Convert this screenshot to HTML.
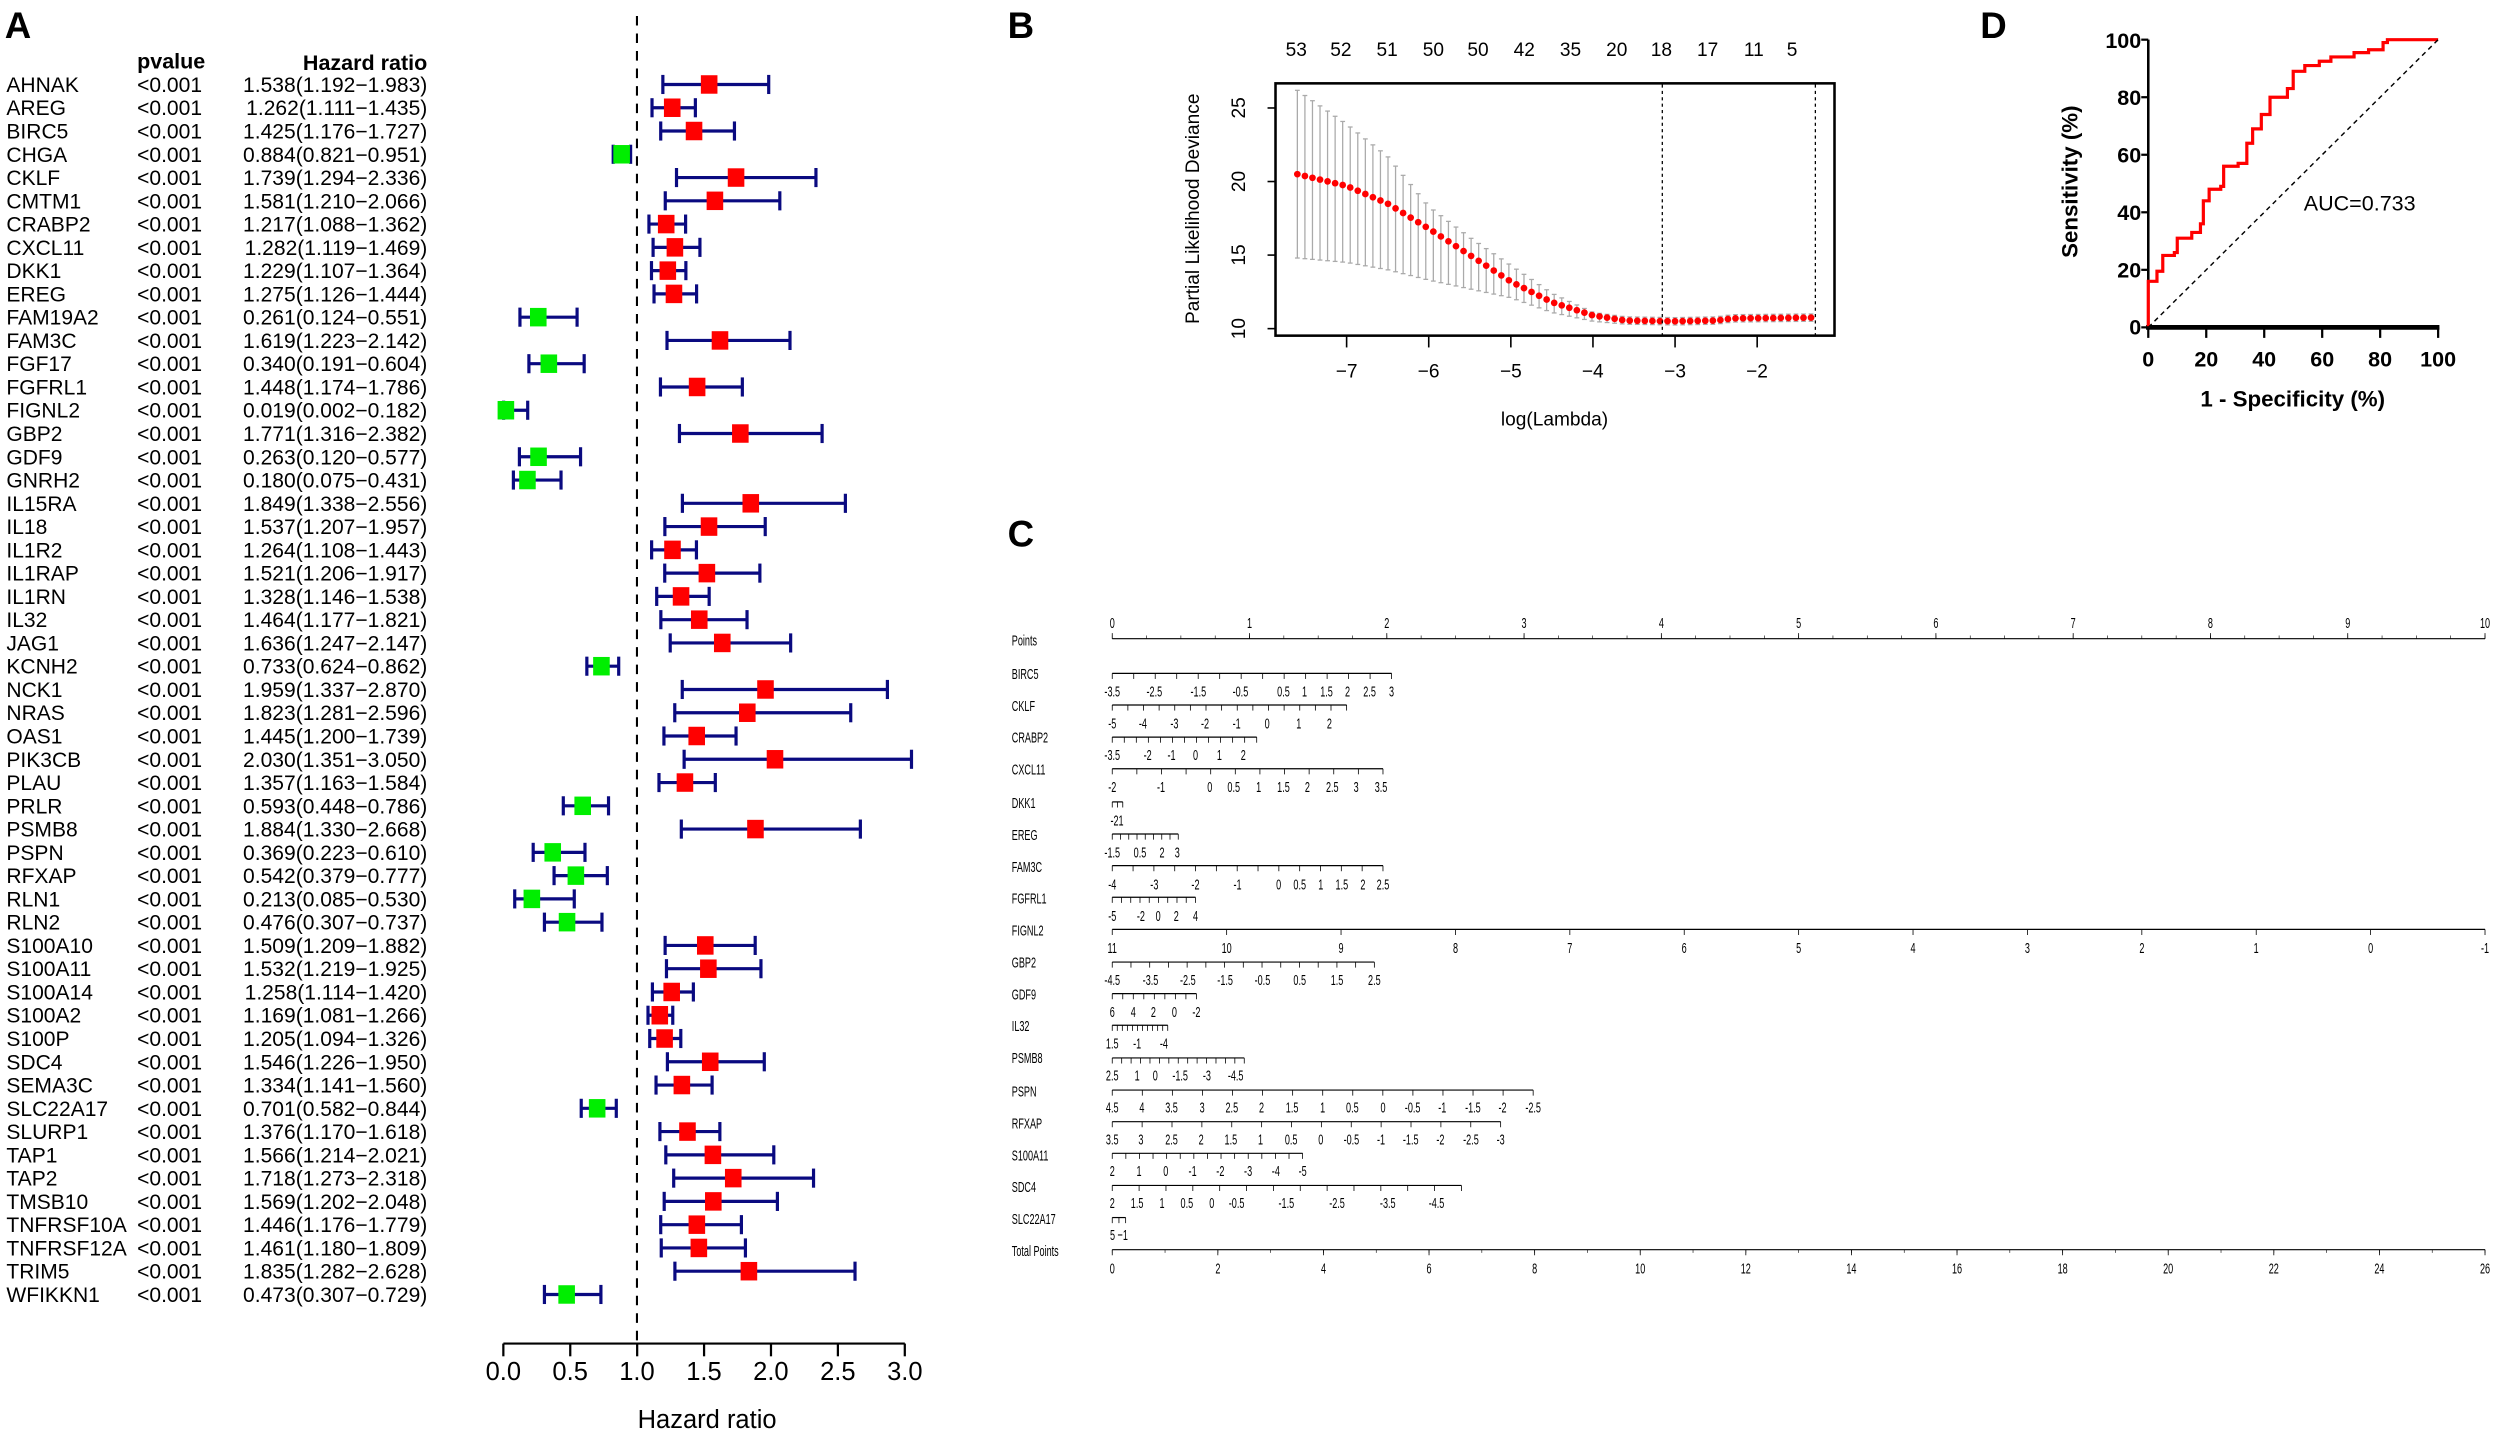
<!DOCTYPE html>
<html><head><meta charset="utf-8"><style>
html,body{margin:0;padding:0;background:#fff}
svg{display:block}
text{font-family:"Liberation Sans",Arial,sans-serif;fill:#000}
</style></head><body>
<svg id="s" width="2500" height="1436" viewBox="0 0 1568 901" preserveAspectRatio="none" xmlns="http://www.w3.org/2000/svg">
<rect width="1568" height="901" fill="#fff"/>
<!-- Panel labels -->
<text x="3" y="24" font-size="23" font-weight="bold">A</text>
<text x="632" y="24" font-size="23" font-weight="bold">B</text>
<text x="632" y="343" font-size="23" font-weight="bold">C</text>
<text x="1242" y="24" font-size="23" font-weight="bold">D</text>

<!-- Panel A text -->
<text x="86" y="43" font-size="13.5" font-weight="bold">pvalue</text>
<text x="268" y="44" font-size="13.5" font-weight="bold" text-anchor="end">Hazard ratio</text>
<g font-size="13.2">
<text x="4" y="57.7"><tspan x="4">AHNAK</tspan><tspan x="4" dy="14.6">AREG</tspan><tspan x="4" dy="14.6">BIRC5</tspan><tspan x="4" dy="14.6">CHGA</tspan><tspan x="4" dy="14.6">CKLF</tspan><tspan x="4" dy="14.6">CMTM1</tspan><tspan x="4" dy="14.6">CRABP2</tspan><tspan x="4" dy="14.6">CXCL11</tspan><tspan x="4" dy="14.6">DKK1</tspan><tspan x="4" dy="14.6">EREG</tspan><tspan x="4" dy="14.6">FAM19A2</tspan><tspan x="4" dy="14.6">FAM3C</tspan><tspan x="4" dy="14.6">FGF17</tspan><tspan x="4" dy="14.6">FGFRL1</tspan><tspan x="4" dy="14.6">FIGNL2</tspan><tspan x="4" dy="14.6">GBP2</tspan><tspan x="4" dy="14.6">GDF9</tspan><tspan x="4" dy="14.6">GNRH2</tspan><tspan x="4" dy="14.6">IL15RA</tspan><tspan x="4" dy="14.6">IL18</tspan><tspan x="4" dy="14.6">IL1R2</tspan><tspan x="4" dy="14.6">IL1RAP</tspan><tspan x="4" dy="14.6">IL1RN</tspan><tspan x="4" dy="14.6">IL32</tspan><tspan x="4" dy="14.6">JAG1</tspan><tspan x="4" dy="14.6">KCNH2</tspan><tspan x="4" dy="14.6">NCK1</tspan><tspan x="4" dy="14.6">NRAS</tspan><tspan x="4" dy="14.6">OAS1</tspan><tspan x="4" dy="14.6">PIK3CB</tspan><tspan x="4" dy="14.6">PLAU</tspan><tspan x="4" dy="14.6">PRLR</tspan><tspan x="4" dy="14.6">PSMB8</tspan><tspan x="4" dy="14.6">PSPN</tspan><tspan x="4" dy="14.6">RFXAP</tspan><tspan x="4" dy="14.6">RLN1</tspan><tspan x="4" dy="14.6">RLN2</tspan><tspan x="4" dy="14.6">S100A10</tspan><tspan x="4" dy="14.6">S100A11</tspan><tspan x="4" dy="14.6">S100A14</tspan><tspan x="4" dy="14.6">S100A2</tspan><tspan x="4" dy="14.6">S100P</tspan><tspan x="4" dy="14.6">SDC4</tspan><tspan x="4" dy="14.6">SEMA3C</tspan><tspan x="4" dy="14.6">SLC22A17</tspan><tspan x="4" dy="14.6">SLURP1</tspan><tspan x="4" dy="14.6">TAP1</tspan><tspan x="4" dy="14.6">TAP2</tspan><tspan x="4" dy="14.6">TMSB10</tspan><tspan x="4" dy="14.6">TNFRSF10A</tspan><tspan x="4" dy="14.6">TNFRSF12A</tspan><tspan x="4" dy="14.6">TRIM5</tspan><tspan x="4" dy="14.6">WFIKKN1</tspan></text>
<text x="86" y="57.7"><tspan x="86">&lt;0.001</tspan><tspan x="86" dy="14.6">&lt;0.001</tspan><tspan x="86" dy="14.6">&lt;0.001</tspan><tspan x="86" dy="14.6">&lt;0.001</tspan><tspan x="86" dy="14.6">&lt;0.001</tspan><tspan x="86" dy="14.6">&lt;0.001</tspan><tspan x="86" dy="14.6">&lt;0.001</tspan><tspan x="86" dy="14.6">&lt;0.001</tspan><tspan x="86" dy="14.6">&lt;0.001</tspan><tspan x="86" dy="14.6">&lt;0.001</tspan><tspan x="86" dy="14.6">&lt;0.001</tspan><tspan x="86" dy="14.6">&lt;0.001</tspan><tspan x="86" dy="14.6">&lt;0.001</tspan><tspan x="86" dy="14.6">&lt;0.001</tspan><tspan x="86" dy="14.6">&lt;0.001</tspan><tspan x="86" dy="14.6">&lt;0.001</tspan><tspan x="86" dy="14.6">&lt;0.001</tspan><tspan x="86" dy="14.6">&lt;0.001</tspan><tspan x="86" dy="14.6">&lt;0.001</tspan><tspan x="86" dy="14.6">&lt;0.001</tspan><tspan x="86" dy="14.6">&lt;0.001</tspan><tspan x="86" dy="14.6">&lt;0.001</tspan><tspan x="86" dy="14.6">&lt;0.001</tspan><tspan x="86" dy="14.6">&lt;0.001</tspan><tspan x="86" dy="14.6">&lt;0.001</tspan><tspan x="86" dy="14.6">&lt;0.001</tspan><tspan x="86" dy="14.6">&lt;0.001</tspan><tspan x="86" dy="14.6">&lt;0.001</tspan><tspan x="86" dy="14.6">&lt;0.001</tspan><tspan x="86" dy="14.6">&lt;0.001</tspan><tspan x="86" dy="14.6">&lt;0.001</tspan><tspan x="86" dy="14.6">&lt;0.001</tspan><tspan x="86" dy="14.6">&lt;0.001</tspan><tspan x="86" dy="14.6">&lt;0.001</tspan><tspan x="86" dy="14.6">&lt;0.001</tspan><tspan x="86" dy="14.6">&lt;0.001</tspan><tspan x="86" dy="14.6">&lt;0.001</tspan><tspan x="86" dy="14.6">&lt;0.001</tspan><tspan x="86" dy="14.6">&lt;0.001</tspan><tspan x="86" dy="14.6">&lt;0.001</tspan><tspan x="86" dy="14.6">&lt;0.001</tspan><tspan x="86" dy="14.6">&lt;0.001</tspan><tspan x="86" dy="14.6">&lt;0.001</tspan><tspan x="86" dy="14.6">&lt;0.001</tspan><tspan x="86" dy="14.6">&lt;0.001</tspan><tspan x="86" dy="14.6">&lt;0.001</tspan><tspan x="86" dy="14.6">&lt;0.001</tspan><tspan x="86" dy="14.6">&lt;0.001</tspan><tspan x="86" dy="14.6">&lt;0.001</tspan><tspan x="86" dy="14.6">&lt;0.001</tspan><tspan x="86" dy="14.6">&lt;0.001</tspan><tspan x="86" dy="14.6">&lt;0.001</tspan><tspan x="86" dy="14.6">&lt;0.001</tspan></text>
<text x="268" y="57.7" text-anchor="end"><tspan x="268">1.538(1.192−1.983)</tspan><tspan x="268" dy="14.6">1.262(1.111−1.435)</tspan><tspan x="268" dy="14.6">1.425(1.176−1.727)</tspan><tspan x="268" dy="14.6">0.884(0.821−0.951)</tspan><tspan x="268" dy="14.6">1.739(1.294−2.336)</tspan><tspan x="268" dy="14.6">1.581(1.210−2.066)</tspan><tspan x="268" dy="14.6">1.217(1.088−1.362)</tspan><tspan x="268" dy="14.6">1.282(1.119−1.469)</tspan><tspan x="268" dy="14.6">1.229(1.107−1.364)</tspan><tspan x="268" dy="14.6">1.275(1.126−1.444)</tspan><tspan x="268" dy="14.6">0.261(0.124−0.551)</tspan><tspan x="268" dy="14.6">1.619(1.223−2.142)</tspan><tspan x="268" dy="14.6">0.340(0.191−0.604)</tspan><tspan x="268" dy="14.6">1.448(1.174−1.786)</tspan><tspan x="268" dy="14.6">0.019(0.002−0.182)</tspan><tspan x="268" dy="14.6">1.771(1.316−2.382)</tspan><tspan x="268" dy="14.6">0.263(0.120−0.577)</tspan><tspan x="268" dy="14.6">0.180(0.075−0.431)</tspan><tspan x="268" dy="14.6">1.849(1.338−2.556)</tspan><tspan x="268" dy="14.6">1.537(1.207−1.957)</tspan><tspan x="268" dy="14.6">1.264(1.108−1.443)</tspan><tspan x="268" dy="14.6">1.521(1.206−1.917)</tspan><tspan x="268" dy="14.6">1.328(1.146−1.538)</tspan><tspan x="268" dy="14.6">1.464(1.177−1.821)</tspan><tspan x="268" dy="14.6">1.636(1.247−2.147)</tspan><tspan x="268" dy="14.6">0.733(0.624−0.862)</tspan><tspan x="268" dy="14.6">1.959(1.337−2.870)</tspan><tspan x="268" dy="14.6">1.823(1.281−2.596)</tspan><tspan x="268" dy="14.6">1.445(1.200−1.739)</tspan><tspan x="268" dy="14.6">2.030(1.351−3.050)</tspan><tspan x="268" dy="14.6">1.357(1.163−1.584)</tspan><tspan x="268" dy="14.6">0.593(0.448−0.786)</tspan><tspan x="268" dy="14.6">1.884(1.330−2.668)</tspan><tspan x="268" dy="14.6">0.369(0.223−0.610)</tspan><tspan x="268" dy="14.6">0.542(0.379−0.777)</tspan><tspan x="268" dy="14.6">0.213(0.085−0.530)</tspan><tspan x="268" dy="14.6">0.476(0.307−0.737)</tspan><tspan x="268" dy="14.6">1.509(1.209−1.882)</tspan><tspan x="268" dy="14.6">1.532(1.219−1.925)</tspan><tspan x="268" dy="14.6">1.258(1.114−1.420)</tspan><tspan x="268" dy="14.6">1.169(1.081−1.266)</tspan><tspan x="268" dy="14.6">1.205(1.094−1.326)</tspan><tspan x="268" dy="14.6">1.546(1.226−1.950)</tspan><tspan x="268" dy="14.6">1.334(1.141−1.560)</tspan><tspan x="268" dy="14.6">0.701(0.582−0.844)</tspan><tspan x="268" dy="14.6">1.376(1.170−1.618)</tspan><tspan x="268" dy="14.6">1.566(1.214−2.021)</tspan><tspan x="268" dy="14.6">1.718(1.273−2.318)</tspan><tspan x="268" dy="14.6">1.569(1.202−2.048)</tspan><tspan x="268" dy="14.6">1.446(1.176−1.779)</tspan><tspan x="268" dy="14.6">1.461(1.180−1.809)</tspan><tspan x="268" dy="14.6">1.835(1.282−2.628)</tspan><tspan x="268" dy="14.6">0.473(0.307−0.729)</tspan></text>
</g>
<line x1="399.5" y1="10" x2="399.5" y2="843" stroke="#000" stroke-width="1.3" stroke-dasharray="6,5"/>
<g id="forest"></g>
<line x1="315.7" y1="843" x2="567.5" y2="843" stroke="#000" stroke-width="1.4"/>
<g id="fticks"></g>
<g font-size="16" text-anchor="middle">
<text x="315.7" y="866">0.0</text><text x="357.6" y="866">0.5</text><text x="399.5" y="866">1.0</text><text x="441.5" y="866">1.5</text><text x="483.5" y="866">2.0</text><text x="525.5" y="866">2.5</text><text x="567.5" y="866">3.0</text>
<text x="443.5" y="896">Hazard ratio</text>
</g>

<!-- Panel B -->
<g font-size="12" text-anchor="middle">
<text x="813" y="35">53</text><text x="841" y="35">52</text><text x="870" y="35">51</text><text x="899" y="35">50</text><text x="927" y="35">50</text><text x="956" y="35">42</text><text x="985" y="35">35</text><text x="1014" y="35">20</text><text x="1042" y="35">18</text><text x="1071" y="35">17</text><text x="1100" y="35">11</text><text x="1124" y="35">5</text>
<text x="844.6" y="237">−7</text><text x="896" y="237">−6</text><text x="947.6" y="237">−5</text><text x="999" y="237">−4</text><text x="1050.6" y="237">−3</text><text x="1102" y="237">−2</text>
<text x="975" y="267">log(Lambda)</text>
<text transform="translate(781,206.2) rotate(-90)">10</text>
<text transform="translate(781,160) rotate(-90)">15</text>
<text transform="translate(781,113.9) rotate(-90)">20</text>
<text transform="translate(781,67.7) rotate(-90)">25</text>
<text transform="translate(752,131) rotate(-90)">Partial Likelihood Deviance</text>
</g>
<g id="lasso"></g>
<rect x="800" y="52.3" width="350.6" height="158.3" fill="none" stroke="#000" stroke-width="1.6"/>
<line x1="1042.6" y1="53" x2="1042.6" y2="210" stroke="#000" stroke-width="0.8" stroke-dasharray="2,2"/>
<line x1="1138.6" y1="53" x2="1138.6" y2="210" stroke="#000" stroke-width="0.8" stroke-dasharray="2,2"/>

<!-- Panel D -->
<line x1="1347.4" y1="24.9" x2="1347.4" y2="205.4" stroke="#000" stroke-width="1.6"/>
<line x1="1346" y1="205.4" x2="1530" y2="205.4" stroke="#000" stroke-width="3"/>
<g id="roc"></g>
<line x1="1347.4" y1="205.4" x2="1529.2" y2="24.9" stroke="#000" stroke-width="0.9" stroke-dasharray="3,2.5"/>
<g font-size="13.5" font-weight="bold">
<g text-anchor="end"><text x="1343" y="210">0</text><text x="1343" y="174">20</text><text x="1343" y="138">40</text><text x="1343" y="102">60</text><text x="1343" y="66">80</text><text x="1343" y="30">100</text></g>
<g text-anchor="middle"><text x="1347.4" y="230">0</text><text x="1383.8" y="230">20</text><text x="1420.1" y="230">40</text><text x="1456.5" y="230">60</text><text x="1492.8" y="230">80</text><text x="1529.2" y="230">100</text>
<text x="1438" y="255" font-size="14">1 - Specificity (%)</text>
<text transform="translate(1303,114) rotate(-90)" font-size="14">Sensitivity (%)</text></g>
</g>
<text x="1480" y="132" font-size="13.5" text-anchor="middle">AUC=0.733</text>

<!-- Panel C nomogram -->
<g id="nomo" transform="translate(627.4,0) scale(0.6,1)" font-size="9.5"></g>
<g transform="translate(627.4,0) scale(0.6,1)" font-size="9.5">
<g>
<text x="12" y="405">Points</text><text x="12" y="426">BIRC5</text><text x="12" y="446">CKLF</text><text x="12" y="466">CRABP2</text><text x="12" y="486">CXCL11</text><text x="12" y="507">DKK1</text><text x="12" y="527">EREG</text><text x="12" y="547">FAM3C</text><text x="12" y="567">FGFRL1</text><text x="12" y="587">FIGNL2</text><text x="12" y="607">GBP2</text><text x="12" y="627">GDF9</text><text x="12" y="647">IL32</text><text x="12" y="667">PSMB8</text><text x="12" y="688">PSPN</text><text x="12" y="708">RFXAP</text><text x="12" y="728">S100A11</text><text x="12" y="748">SDC4</text><text x="12" y="768">SLC22A17</text><text x="12" y="788">Total Points</text>
</g>
<g text-anchor="middle">
<text x="117" y="394">0</text><text x="260.5" y="394">1</text><text x="404" y="394">2</text><text x="547.5" y="394">3</text><text x="691" y="394">4</text><text x="834.5" y="394">5</text><text x="978" y="394">6</text><text x="1121.5" y="394">7</text><text x="1265" y="394">8</text><text x="1408.5" y="394">9</text><text x="1552" y="394">10</text>
<!-- BIRC5 -->
<g transform="translate(0,437)"><text x="117">-3.5</text><text x="161">-2.5</text><text x="207">-1.5</text><text x="251">-0.5</text><text x="296">0.5</text><text x="318">1</text><text x="341">1.5</text><text x="363">2</text><text x="386">2.5</text><text x="409">3</text></g>
<g transform="translate(0,457)"><text x="117">-5</text><text x="149">-4</text><text x="182">-3</text><text x="214">-2</text><text x="247">-1</text><text x="279">0</text><text x="312">1</text><text x="344">2</text></g>
<g transform="translate(0,477)"><text x="117">-3.5</text><text x="154">-2</text><text x="179">-1</text><text x="204">0</text><text x="229">1</text><text x="254">2</text></g>
<g transform="translate(0,497)"><text x="117">-2</text><text x="168">-1</text><text x="219">0</text><text x="244">0.5</text><text x="270">1</text><text x="296">1.5</text><text x="321">2</text><text x="347">2.5</text><text x="372">3</text><text x="398">3.5</text></g>
<g transform="translate(0,518)"><text x="122">-21</text></g>
<g transform="translate(0,538)"><text x="117">-1.5</text><text x="146">0.5</text><text x="169">2</text><text x="185">3</text></g>
<g transform="translate(0,558)"><text x="117">-4</text><text x="161">-3</text><text x="204">-2</text><text x="248">-1</text><text x="291">0</text><text x="313">0.5</text><text x="335">1</text><text x="357">1.5</text><text x="379">2</text><text x="400">2.5</text></g>
<g transform="translate(0,578)"><text x="117">-5</text><text x="147">-2</text><text x="165">0</text><text x="184">2</text><text x="204">4</text></g>
<g transform="translate(0,598)"><text x="117">11</text><text x="236.6">10</text><text x="356.2">9</text><text x="475.8">8</text><text x="595.3">7</text><text x="714.9">6</text><text x="834.5">5</text><text x="954.1">4</text><text x="1073.7">3</text><text x="1193.3">2</text><text x="1312.8">1</text><text x="1432.4">0</text><text x="1552">-1</text></g>
<g transform="translate(0,618)"><text x="117">-4.5</text><text x="157">-3.5</text><text x="196">-2.5</text><text x="235">-1.5</text><text x="274">-0.5</text><text x="313">0.5</text><text x="352">1.5</text><text x="391">2.5</text></g>
<g transform="translate(0,638)"><text x="117">6</text><text x="139">4</text><text x="160">2</text><text x="182">0</text><text x="205">-2</text></g>
<g transform="translate(0,658)"><text x="117">1.5</text><text x="143">-1</text><text x="171">-4</text></g>
<g transform="translate(0,678)"><text x="117">2.5</text><text x="143">1</text><text x="162">0</text><text x="188">-1.5</text><text x="216">-3</text><text x="246">-4.5</text></g>
<g transform="translate(0,698)"><text x="117">4.5</text><text x="148">4</text><text x="179">3.5</text><text x="211">3</text><text x="242">2.5</text><text x="273">2</text><text x="305">1.5</text><text x="337">1</text><text x="368">0.5</text><text x="400">0</text><text x="431">-0.5</text><text x="462">-1</text><text x="494">-1.5</text><text x="525">-2</text><text x="557">-2.5</text></g>
<g transform="translate(0,718)"><text x="117">3.5</text><text x="147">3</text><text x="179">2.5</text><text x="210">2</text><text x="241">1.5</text><text x="272">1</text><text x="304">0.5</text><text x="335">0</text><text x="367">-0.5</text><text x="398">-1</text><text x="429">-1.5</text><text x="460">-2</text><text x="492">-2.5</text><text x="523">-3</text></g>
<g transform="translate(0,738)"><text x="117">2</text><text x="145">1</text><text x="173">0</text><text x="201">-1</text><text x="230">-2</text><text x="259">-3</text><text x="288">-4</text><text x="316">-5</text></g>
<g transform="translate(0,758)"><text x="117">2</text><text x="143">1.5</text><text x="169">1</text><text x="195">0.5</text><text x="221">0</text><text x="247">-0.5</text><text x="299">-1.5</text><text x="352">-2.5</text><text x="405">-3.5</text><text x="456">-4.5</text></g>
<g transform="translate(0,778)"><text x="124">5 −1</text></g>
<g transform="translate(0,799)"><text x="117">0</text><text x="227.4">2</text><text x="337.8">4</text><text x="448.2">6</text><text x="558.5">8</text><text x="668.9">10</text><text x="779.3">12</text><text x="889.7">14</text><text x="1000.1">16</text><text x="1110.5">18</text><text x="1220.8">20</text><text x="1331.2">22</text><text x="1441.6">24</text><text x="1552">26</text></g>
</g>
</g>
</svg>
<script>
var NS="http://www.w3.org/2000/svg";
function el(p,t,a){var e=document.createElementNS(NS,t);for(var k in a)e.setAttribute(k,a[k]);p.appendChild(e);return e;}
// forest
var d=[[1.538,1.192,1.983],[1.262,1.111,1.435],[1.425,1.176,1.727],[0.884,0.821,0.951],[1.739,1.294,2.336],[1.581,1.210,2.066],[1.217,1.088,1.362],[1.282,1.119,1.469],[1.229,1.107,1.364],[1.275,1.126,1.444],[0.261,0.124,0.551],[1.619,1.223,2.142],[0.340,0.191,0.604],[1.448,1.174,1.786],[0.019,0.002,0.182],[1.771,1.316,2.382],[0.263,0.120,0.577],[0.180,0.075,0.431],[1.849,1.338,2.556],[1.537,1.207,1.957],[1.264,1.108,1.443],[1.521,1.206,1.917],[1.328,1.146,1.538],[1.464,1.177,1.821],[1.636,1.247,2.147],[0.733,0.624,0.862],[1.959,1.337,2.870],[1.823,1.281,2.596],[1.445,1.200,1.739],[2.030,1.351,3.050],[1.357,1.163,1.584],[0.593,0.448,0.786],[1.884,1.330,2.668],[0.369,0.223,0.610],[0.542,0.379,0.777],[0.213,0.085,0.530],[0.476,0.307,0.737],[1.509,1.209,1.882],[1.532,1.219,1.925],[1.258,1.114,1.420],[1.169,1.081,1.266],[1.205,1.094,1.326],[1.546,1.226,1.950],[1.334,1.141,1.560],[0.701,0.582,0.844],[1.376,1.170,1.618],[1.566,1.214,2.021],[1.718,1.273,2.318],[1.569,1.202,2.048],[1.446,1.176,1.779],[1.461,1.180,1.809],[1.835,1.282,2.628],[0.473,0.307,0.729]];
var F=document.getElementById("forest");
function fx(v){return 315.7+v*83.93;}
d.forEach(function(r,i){var c=53+i*14.6,nv="#0a0a80";
 el(F,"line",{x1:fx(r[1]),x2:fx(r[2]),y1:c,y2:c,stroke:nv,"stroke-width":2});
 el(F,"line",{x1:fx(r[1]),x2:fx(r[1]),y1:c-6,y2:c+6,stroke:nv,"stroke-width":2});
 el(F,"line",{x1:fx(r[2]),x2:fx(r[2]),y1:c-6,y2:c+6,stroke:nv,"stroke-width":2});
 el(F,"rect",{x:fx(r[0])-5.2,y:c-5.8,width:10.4,height:11.6,fill:r[0]>1?"#ff0000":"#00ee00"});
});
var FT=document.getElementById("fticks");
for(var k=0;k<=6;k++)el(FT,"line",{x1:fx(k*0.5),x2:fx(k*0.5),y1:843,y2:851,stroke:"#000","stroke-width":1.4});
// lasso
var L=document.getElementById("lasso");
function lx(v){return 844.6+(v+7)*51.5;}
function ly(v){return 206.2-(v-10)*9.23;}
function interp(a,x){for(var i=0;i<a.length-1;i++){if(x<=a[i+1][0]){var t=(x-a[i][0])/(a[i+1][0]-a[i][0]);return a[i][1]+t*(a[i+1][1]-a[i][1]);}}return a[a.length-1][1];}
var M=[[-7.6,20.5],[-7,19.7],[-6.5,18.5],[-6,16.8],[-5.5,15],[-5,13.2],[-4.5,11.8],[-4,10.9],[-3.6,10.55],[-3,10.5],[-2.5,10.55],[-2.3,10.7],[-1.3,10.75]];
var U=[[-7.6,26.2],[-7,23.9],[-6.5,21.7],[-6,18.3],[-5.5,16.2],[-5,14.3],[-4.5,12.4],[-4,11.1],[-3.6,10.8],[-3,10.75],[-2.5,10.8],[-2.3,10.95],[-1.3,11]];
var D=[[-7.6,14.8],[-7,14.5],[-6.5,14],[-6,13.3],[-5.5,12.7],[-5,12.1],[-4.5,11.1],[-4,10.5],[-3.6,10.3],[-3,10.25],[-2.5,10.3],[-2.3,10.45],[-1.3,10.5]];
var pts=[];for(var x=-7.6;x<=-1.28;x+=0.092)pts.push(x);
pts.forEach(function(x){var X=lx(x);
 el(L,"line",{x1:X,x2:X,y1:ly(interp(U,x)),y2:ly(interp(D,x)),stroke:"#aaa","stroke-width":0.8});
 el(L,"line",{x1:X-1.5,x2:X+1.5,y1:ly(interp(U,x)),y2:ly(interp(U,x)),stroke:"#aaa","stroke-width":0.8});
 el(L,"line",{x1:X-1.5,x2:X+1.5,y1:ly(interp(D,x)),y2:ly(interp(D,x)),stroke:"#aaa","stroke-width":0.8});});
pts.forEach(function(x){el(L,"circle",{cx:lx(x),cy:ly(interp(M,x)),r:2.1,fill:"#ff0000"});});
[-7,-6,-5,-4,-3,-2].forEach(function(v){el(L,"line",{x1:lx(v),x2:lx(v),y1:210.6,y2:218,stroke:"#000","stroke-width":1});});
[10,15,20,25].forEach(function(v){el(L,"line",{x1:795,x2:800,y1:ly(v),y2:ly(v),stroke:"#000","stroke-width":1});});
// roc
var R=document.getElementById("roc");
function rx(v){return 1347.4+v*1.818;}function ry(v){return 205.4-v*1.805;}
var rp=[[0,16],[3,19.5],[5,25],[9,26],[10,31],[15,33],[18,36],[19,44],[21,48],[25,49],[26,56],[31,57],[34,64],[36,69],[39,74],[42,80],[48,83],[50,89],[54,91],[59,92.5],[63,94],[71,95.5],[76,96.5],[81,99],[82.5,100],[100,100]];
var s="M"+rx(0)+","+ry(0)+" L"+rx(0)+","+ry(16);var py=16;
rp.forEach(function(p,i){if(i==0)return;s+=" L"+rx(p[0])+","+ry(py)+" L"+rx(p[0])+","+ry(p[1]);py=p[1];});
el(R,"path",{d:s,fill:"none",stroke:"#ff0000","stroke-width":2});
[0,20,40,60,80,100].forEach(function(v){el(R,"line",{x1:rx(v),x2:rx(v),y1:205.4,y2:212,stroke:"#000","stroke-width":1.4});el(R,"line",{x1:1343,x2:1347.4,y1:ry(v),y2:ry(v),stroke:"#000","stroke-width":1.4});});
// nomogram
var N=document.getElementById("nomo");
function nl(y,x1,x2,n,dir,minor){
 el(N,"line",{x1:x1,x2:x2,y1:y,y2:y,stroke:"#000","stroke-width":1.2,"vector-effect":"non-scaling-stroke"});
 for(var i=0;i<n;i++){var x=x1+(x2-x1)*i/(n-1);el(N,"line",{x1:x,x2:x,y1:y,y2:y+dir*3.5,stroke:"#000","stroke-width":0.8,"vector-effect":"non-scaling-stroke"});}
 if(minor){for(var i=0;i<minor;i++){var x=x1+(x2-x1)*i/(minor-1);el(N,"line",{x1:x,x2:x,y1:y,y2:y+dir*2,stroke:"#000","stroke-width":0.6,"vector-effect":"non-scaling-stroke"});}}
}
function oy(o){return 313.7+o*0.32;}
nl(oy(272),117,1552,11,-1,41);
var rows=[[340,409,14],[402,362,16],[465,268,13],[527,400,12],[592,128,3],[655,186,9],[717,400,14],[779,204,10],[842,1552,13],[906,391,15],[968,205,9],[1030,175,12],[1094,255,15],[1157,557,15],[1219,523,14],[1281,316,15],[1344,482,14],[1407,131,3]];
rows.forEach(function(r){nl(oy(r[0]),117,r[1],r[2],1);});
nl(oy(1470),117,1552,14,1,27);
</script>
</body></html>
